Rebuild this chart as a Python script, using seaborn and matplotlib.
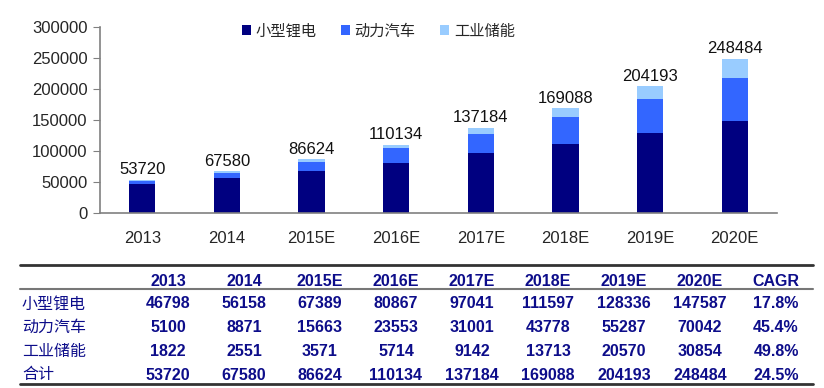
import numpy as np
import pandas as pd
import seaborn as sns
import matplotlib.pyplot as plt
from matplotlib.lines import Line2D
from matplotlib.patches import Patch

years = ['2013', '2014', '2015E', '2016E', '2017E', '2018E', '2019E', '2020E']
small_li = [46798, 56158, 67389, 80867, 97041, 111597, 128336, 147587]
ev_power = [5100, 8871, 15663, 23553, 31001, 43778, 55287, 70042]
storage = [1822, 2551, 3571, 5714, 9142, 13713, 20570, 30854]
totals = [53720, 67580, 86624, 110134, 137184, 169088, 204193, 248484]
series_names = ['小型锂电', '动力汽车', '工业储能']
cagr = ['17.8%', '45.4%', '49.8%', '24.5%']
total_name = '合计'

colors = ['#000080', '#3366FF', '#99CCFF']
navy = '#0D0D8A'

sns.set_style('white')
plt.rcParams['font.family'] = ['Liberation Sans', 'Noto Sans CJK SC', 'DejaVu Sans']

df = pd.DataFrame({'year': years, 'a': small_li, 'b': ev_power, 'c': storage})
df['ab'] = df['a'] + df['b']
df['abc'] = df['ab'] + df['c']

fig = plt.figure(figsize=(8.24, 3.88), dpi=100)
ax = fig.add_axes([100 / 824, 1 - 213 / 388, 677 / 824, 186 / 388])

# stacked: draw the tallest first
for col, c in zip(['abc', 'ab', 'a'], colors[::-1]):
    sns.barplot(data=df, x='year', y=col, color=c, width=0.31, ax=ax,
                saturation=1, edgecolor='none')

for i, t in enumerate(totals):
    ax.text(i, t + 4000, str(t), ha='center', va='bottom', fontsize=12, color='#111111')

ax.set_ylim(0, 300000)
ax.set_xlim(-0.5, len(years) - 0.5)
ax.set_yticks(np.arange(0, 300001, 50000))
ax.set_yticklabels([str(v) for v in range(0, 300001, 50000)], fontsize=12)
ax.set_xticks(range(len(years)))
ax.set_xticklabels(years, fontsize=12)
ax.set_xticks(np.arange(-0.5, len(years), 1), minor=True)
ax.tick_params(axis='x', which='major', length=0, pad=13)
ax.tick_params(axis='x', which='minor', length=5, color='#808080', direction='out')
ax.tick_params(axis='y', length=5, color='#808080', direction='out', pad=4, left=True)
ax.set_xlabel('')
ax.set_ylabel('')
for s in ['top', 'right']:
    ax.spines[s].set_visible(False)
for s in ['left', 'bottom']:
    ax.spines[s].set_color('#808080')
    ax.spines[s].set_linewidth(1.2)

handles = [Patch(facecolor=c, edgecolor='none') for c in colors]
fig.legend(handles, series_names, loc='center left', bbox_to_anchor=(228 / 824, 1 - 31 / 388),
           ncol=3, frameon=False, handlelength=0.6, handleheight=0.6,
           handletextpad=0.3, columnspacing=1.6, prop={'family': ['Noto Sans CJK SC'], 'size': 11})

# data table below the chart
col_x = [168 + 76 * i for i in range(9)]
row_y = [281, 304, 327, 351, 375]
hdr = years + ['CAGR']
for x, h in zip(col_x, hdr):
    fig.text(x / 824, 1 - row_y[0] / 388, h, ha='center', va='center', fontsize=11.5,
             fontweight='bold', color=navy)
rows = [small_li, ev_power, storage, totals]
labels = series_names + [total_name]
for r, (lab, vals) in enumerate(zip(labels, rows)):
    y = 1 - row_y[r + 1] / 388
    fig.text(22 / 824, y, lab, ha='left', va='center', fontsize=11.5, color=navy,
             family=['Noto Sans CJK SC'])
    for x, v in zip(col_x, list(vals) + [cagr[r]]):
        fig.text(x / 824, y, str(v), ha='center', va='center', fontsize=11.5,
                 fontweight='bold', color=navy)

for yy, lw, c in [(265, 2, '#333333'), (289, 1.5, '#777777'), (384, 2, '#333333')]:
    fig.add_artist(Line2D([20 / 824, 813 / 824], [1 - yy / 388] * 2, lw=lw, color=c))

fig.savefig('out.png', dpi=100)
